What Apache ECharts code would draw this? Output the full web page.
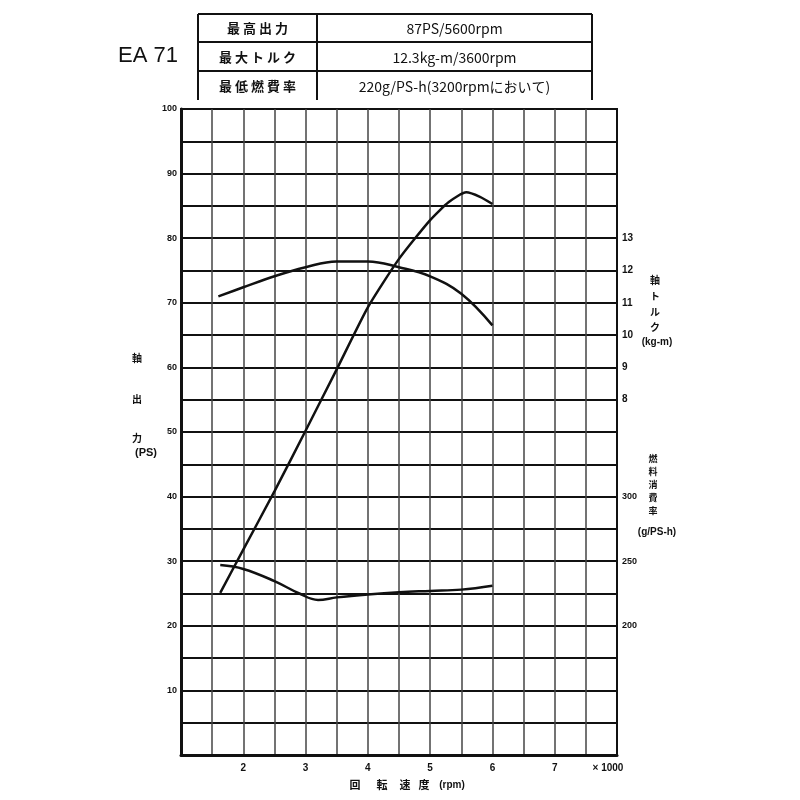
<!DOCTYPE html>
<html><head><meta charset="utf-8">
<script src="https://cdn.jsdelivr.net/npm/echarts@6/dist/echarts.min.js"></script>
<style>html,body{margin:0;padding:0;background:#fff}#c{width:800px;height:800px}</style>
</head><body><div id="c"></div>
<script>
// ---- data ----
const powerRpm = [1.63, 2.0, 2.5, 3.0, 3.5, 4.0, 4.5, 5.0, 5.3, 5.58, 5.8, 6.0];
const powerPS  = [25.1, 31.8, 40.8, 50.2, 59.7, 69.3, 76.8, 82.8, 85.6, 87.1, 86.4, 85.3];
const torqueRpm = [1.6, 2.0, 2.5, 3.0, 3.5, 4.0, 4.5, 5.0, 5.5, 6.0];
const torqueKgm = [11.2, 11.48, 11.82, 12.1, 12.28, 12.28, 12.1, 11.82, 11.28, 10.3];
const fuelRpm = [1.63, 2.0, 2.5, 2.9, 3.2, 3.5, 4.0, 4.5, 5.0, 5.5, 6.0];
const fuelGPSh = [247, 244, 234.6, 225, 220, 222, 224.3, 226, 227, 228, 231];
const xTickLabels = ['2', '3', '4', '5', '6', '7'];
const psTickLabels = ['10','20','30','40','50','60','70','80','90','100'];
const torqueTickLabels = ['8','9','10','11','12','13'];
const fuelTickLabels = ['200','250','300'];
const specNames = ['最 高 出 力', '最 大 ト ル ク', '最 低 燃 費 率'];
const specValues = ['87PS/5600rpm', '12.3kg-m/3600rpm', '220g/PS-h(3200rpmにおいて)'];

const pair = (xs, ys) => xs.map((x, i) => [x, ys[i]]);
const numFont = 'Liberation Sans';
const cjk = '"Noto Sans CJK JP"';

const chart = echarts.init(document.getElementById('c'), null, {renderer: 'canvas'});

const graphics = [];
graphics.push({type: 'text', left: 118, top: 45, style: {text: 'EA 71', font: '22px ' + numFont, fill: '#111'}});
const tL = 198, tM = 317, tR = 592, rows = [14, 42, 71], tB = 100;
rows.forEach(y => graphics.push({type: 'line', shape: {x1: tL, y1: y, x2: tR, y2: y}, style: {stroke: '#111', lineWidth: 2}}));
[tL, tM, tR].forEach(x => graphics.push({type: 'line', shape: {x1: x, y1: rows[0], x2: x, y2: tB}, style: {stroke: '#111', lineWidth: 2}}));
specNames.forEach((t, i) => graphics.push({type: 'text', x: (tL + tM) / 2, y: rows[0] + 14.5 + i * 29,
  style: {text: t, font: 'bold 13px ' + cjk, fill: '#111', textAlign: 'center', textVerticalAlign: 'middle'}}));
specValues.forEach((t, i) => graphics.push({type: 'text', x: (tM + tR) / 2, y: rows[0] + 14.5 + i * 29,
  style: {text: t, font: '14px ' + cjk, fill: '#111', textAlign: 'center', textVerticalAlign: 'middle'}}));
[['軸', 137, 358], ['出', 137, 399], ['力', 137, 438]].forEach(a => graphics.push({type: 'text', x: a[1], y: a[2],
  style: {text: a[0], font: 'bold 10px ' + cjk, fill: '#111', textAlign: 'center', textVerticalAlign: 'middle'}}));
graphics.push({type: 'text', x: 146, y: 453, style: {text: '(PS)', font: 'bold 11px ' + numFont, fill: '#111', textAlign: 'center', textVerticalAlign: 'middle'}});
[['軸', 280], ['ト', 296], ['ル', 312], ['ク', 327]].forEach(a => graphics.push({type: 'text', x: 655, y: a[1],
  style: {text: a[0], font: 'bold 10px ' + cjk, fill: '#111', textAlign: 'center', textVerticalAlign: 'middle'}}));
graphics.push({type: 'text', x: 657, y: 342, style: {text: '(kg-m)', font: 'bold 10px ' + numFont, fill: '#111', textAlign: 'center', textVerticalAlign: 'middle'}});
[['燃', 459], ['料', 472], ['消', 485], ['費', 498], ['率', 511]].forEach(a => graphics.push({type: 'text', x: 653, y: a[1],
  style: {text: a[0], font: 'bold 9px ' + cjk, fill: '#111', textAlign: 'center', textVerticalAlign: 'middle'}}));
graphics.push({type: 'text', x: 657, y: 532, style: {text: '(g/PS-h)', font: 'bold 10px ' + numFont, fill: '#111', textAlign: 'center', textVerticalAlign: 'middle'}});
[['回', 355], ['転', 382], ['速', 405], ['度', 424]].forEach(a => graphics.push({type: 'text', x: a[1], y: 785,
  style: {text: a[0], font: 'bold 11px ' + cjk, fill: '#111', textAlign: 'center', textVerticalAlign: 'middle'}}));
graphics.push({type: 'text', x: 452, y: 785, style: {text: '(rpm)', font: 'bold 10px ' + numFont, fill: '#111', textAlign: 'center', textVerticalAlign: 'middle'}});
graphics.push({type: 'text', x: 608, y: 768, style: {text: '× 1000', font: 'bold 10px ' + numFont, fill: '#111', textAlign: 'center', textVerticalAlign: 'middle'}});

const lineStyle = {color: '#111', width: 2.5};

chart.setOption({
  animation: false,
  backgroundColor: '#fff',
  grid: {left: 181, top: 109, right: 183, bottom: 45, show: true, borderColor: '#111', borderWidth: 2},
  graphic: graphics,
  xAxis: {
    type: 'value', min: 1, max: 8, interval: 0.5,
    axisLine: {show: true, lineStyle: {color: '#111', width: 3}},
    axisTick: {show: false},
    axisLabel: {margin: 8, color: '#111', fontSize: 10, fontWeight: 'bold', fontFamily: numFont,
      formatter: v => xTickLabels.includes(String(v)) ? String(v) : ''},
    splitLine: {show: true, lineStyle: {color: '#444', width: 1.5}}
  },
  yAxis: [
    {type: 'value', min: 0, max: 100, interval: 5, position: 'left',
      axisLine: {show: true, lineStyle: {color: '#111', width: 3}},
      axisTick: {show: false},
      axisLabel: {margin: 4, color: '#111', fontSize: 9, fontWeight: 'bold', fontFamily: numFont,
        formatter: v => psTickLabels.includes(String(v)) ? String(v) : ''},
      splitLine: {show: true, lineStyle: {color: '#111', width: 2}}},
    {type: 'value', min: -3, max: 17, interval: 1, position: 'right',
      axisLine: {show: true, lineStyle: {color: '#111', width: 2}},
      axisTick: {show: false},
      axisLabel: {margin: 5, color: '#111', fontSize: 10, fontWeight: 'bold', fontFamily: numFont,
        formatter: v => torqueTickLabels.includes(String(v)) ? String(v) : ''},
      splitLine: {show: false}},
    {type: 'value', min: 100, max: 600, interval: 50, position: 'right',
      axisLine: {show: false},
      axisTick: {show: false},
      axisLabel: {margin: 5, color: '#111', fontSize: 9, fontWeight: 'bold', fontFamily: numFont,
        formatter: v => fuelTickLabels.includes(String(v)) ? String(v) : ''},
      splitLine: {show: false}}
  ],
  series: [
    {name: '軸出力', type: 'line', yAxisIndex: 0, data: pair(powerRpm, powerPS), smooth: 0.2, showSymbol: false, lineStyle: lineStyle, z: 5},
    {name: '軸トルク', type: 'line', yAxisIndex: 1, data: pair(torqueRpm, torqueKgm), smooth: 0.4, showSymbol: false, lineStyle: lineStyle, z: 5},
    {name: '燃料消費率', type: 'line', yAxisIndex: 2, data: pair(fuelRpm, fuelGPSh), smooth: 0.4, showSymbol: false, lineStyle: lineStyle, z: 5}
  ]
});
</script></body></html>
